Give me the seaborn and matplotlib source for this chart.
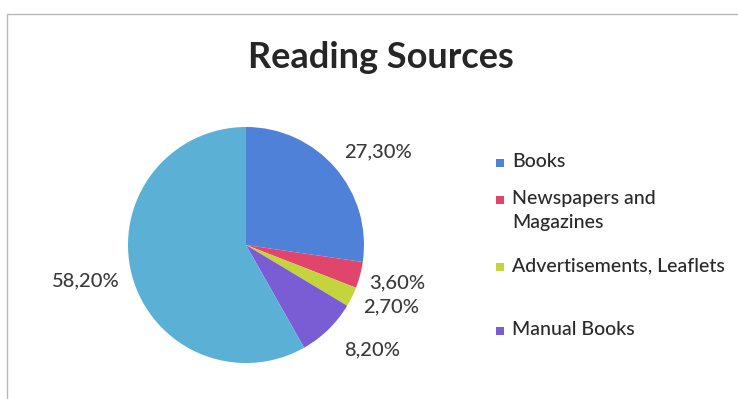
import matplotlib
matplotlib.use("Agg")
import matplotlib.pyplot as plt
from matplotlib.patches import Rectangle
import numpy as np
import seaborn as sns

# Reading sources share (%)
categories = ["Books", "Newspapers and\nMagazines", "Advertisements, Leaflets", "Manual Books", "Other"]
shares = [27.3, 3.6, 2.7, 8.2, 58.2]
colors = ["#4f81d8", "#e0456b", "#c4d43c", "#7a5cd4", "#5bb0d6"]
legend_count = 4  # the last slice has no legend entry

# label placement: angular nudge (deg) from slice middle, distance in radii
label_nudge = [-5.7, 0.7, 3.1, 5.9, -2.1]
label_dist = [1.37, 1.32, 1.34, 1.39, 1.39]
# legend rows: top y of first text line in pixels
legend_rows_y = [153, 190, 257, 321]

sns.set_theme(style="white")
plt.rcParams["font.family"] = ["Lato", "DejaVu Sans"]

W, H = 738, 399
fig = plt.figure(figsize=(W / 100, H / 100), dpi=100)
fig.patch.set_facecolor("white")

# chart frame
fig.patches.append(Rectangle((7 / W, -0.1), 1.2, 1 - 14 / H + 0.1, transform=fig.transFigure,
                             fill=False, edgecolor="#b9b9b9", linewidth=1.0))

cx, cy, r = 246, 245, 118
ax = fig.add_axes([(cx - r) / W, (H - cy - r) / H, 2 * r / W, 2 * r / H])
palette = sns.color_palette(colors)

wedges, _ = ax.pie(shares, colors=palette, startangle=90, counterclock=False,
                   wedgeprops=dict(linewidth=0))
ax.set_xlim(-1, 1)
ax.set_ylim(-1, 1)
ax.set_aspect("equal")

total = sum(shares)
for w, v, nudge, dist in zip(wedges, shares, label_nudge, label_dist):
    mid = np.deg2rad((w.theta1 + w.theta2) / 2 + nudge)
    ax.text(dist * np.cos(mid), dist * np.sin(mid), f"{100 * v / total:.2f}%".replace(".", ","),
            ha="center", va="center", fontsize=14.5, fontweight="medium", color="#3a3a3a",
            clip_on=False)

fig.text(381 / W, 1 - 57 / H, "Reading Sources", ha="center", va="center",
         fontsize=26, fontweight="bold", color="#262626")

# legend
sq = 8
for w, label, y in zip(wedges[:legend_count], categories[:legend_count], legend_rows_y):
    fig.patches.append(Rectangle((496 / W, 1 - (y + 6 + sq) / H), sq / W, sq / H,
                                 transform=fig.transFigure, facecolor=w.get_facecolor(),
                                 edgecolor="none"))
    fig.text(512 / W, 1 - y / H, label, ha="left", va="top", fontsize=14,
             fontweight="medium", color="#2a2a2a", linespacing=1.5)

fig.savefig("out.png", dpi=100, facecolor="white")
